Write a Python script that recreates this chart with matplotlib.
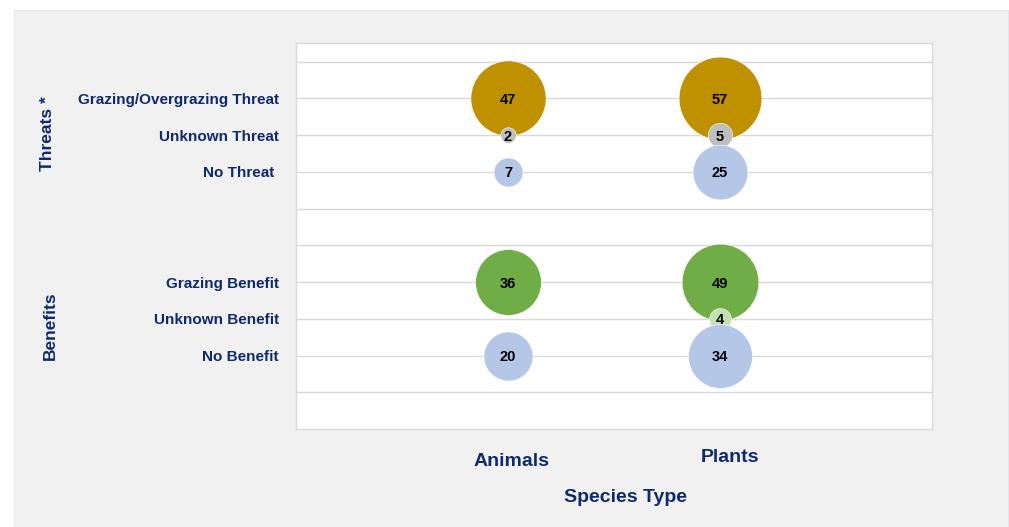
import numpy as np
import matplotlib.pyplot as plt
from matplotlib.patches import Rectangle

# data
species = ["Animals", "Plants"]
categories = ["No Benefit", "Unknown Benefit", "Grazing Benefit",
              "No Threat ", "Unknown Threat", "Grazing/Overgrazing Threat"]
cat_pos = [2, 3, 4, 7, 8, 9]
animals = [20, 0, 36, 7, 2, 47]
plants = [34, 4, 49, 25, 5, 57]
colores = ["#b4c7e7", "#c5e0b4", "#70ad47", "#b4c7e7", "#bfbfbf", "#bf9000"]
# orden de dibujo: grazing, unknown, no
orden = [2, 1, 0, 5, 4, 3]

navy = "#0f2a6b"
plt.rcParams['font.family'] = ['Liberation Sans', 'DejaVu Sans']

fig = plt.figure(figsize=(10.09, 5.27), dpi=100)
fig.patch.set_facecolor("white")
fig.patches.append(Rectangle((14 / 1009, 0), 994 / 1009, 1 - 10 / 527,
                             transform=fig.transFigure, facecolor="#f1f1f1",
                             edgecolor="#e4e8ec", lw=0.8, zorder=-10))

ax = fig.add_axes([296 / 1009, 1 - 429 / 527, 636 / 1009, 386 / 527])
ax.set_facecolor("white")
ax.set_xlim(0, 3)
ax.set_ylim(0, 10.51)

escala = 62.3
for k, i in enumerate(orden):
    for xi, vals in zip([1, 2], [animals, plants]):
        v = vals[i]
        if v == 0:
            continue
        ax.scatter(xi, cat_pos[i], s=v * escala, color=colores[i],
                   edgecolors="white", linewidths=0.4, zorder=3 + k % 3)
        ax.text(xi, cat_pos[i], str(v), ha="center", va="center_baseline",
                fontsize=10.5, fontweight="bold", color="black", zorder=10)

# lineas de cuadricula en cada entero, etiquetas solo en las categorias
etiquetas = {p: c for p, c in zip(cat_pos, categories)}
niveles = list(range(1, 11))
ax.set_yticks(niveles)
ax.set_yticklabels([etiquetas.get(n, "") for n in niveles], fontsize=11,
                   fontweight="bold", color=navy)
ax.grid(axis="y", color="#d9d9d9", lw=1.0, zorder=0)
ax.tick_params(axis="y", length=0, pad=12.5)
ax.set_xticks([])

for sp in ax.spines.values():
    sp.set_color("#d9d9d9")
    sp.set_linewidth(1.0)

# etiquetas del eje x
desplaz = [(4, -32), (10, -29)]
for xi, nombre, d in zip([1, 2], species, desplaz):
    ax.annotate(nombre, xy=(xi, 0), xycoords=("data", "axes fraction"),
                xytext=d, textcoords="offset pixels", ha="center", va="center",
                fontsize=14, fontweight="bold", color=navy)

fig.text(625 / 1009, 1 - 497 / 527, "Species Type", ha="center", va="center",
         fontsize=14, fontweight="bold", color=navy)
fig.text(48 / 1009, 1 - 134 / 527, "Threats *", ha="center", va="center",
         rotation=90, fontsize=12.5, fontweight="bold", color=navy)
fig.text(50 / 1009, 1 - 326 / 527, "Benefits", ha="center", va="center",
         rotation=90, fontsize=12.5, fontweight="bold", color=navy)

fig.savefig("out.png", dpi=100)
